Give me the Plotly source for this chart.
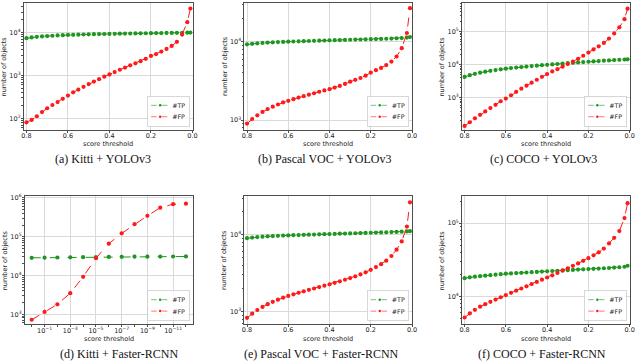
import plotly.graph_objects as go

# ---------------- data ----------------
thresholds = [0.8, 0.775, 0.75, 0.725, 0.7, 0.675, 0.65, 0.625, 0.6, 0.575, 0.55,
              0.525, 0.5, 0.475, 0.45, 0.425, 0.4, 0.375, 0.35, 0.325, 0.3, 0.275,
              0.25, 0.225, 0.2, 0.175, 0.15, 0.125, 0.1, 0.075, 0.05, 0.025, 0.01]

kitti_yolo_tp = [7400, 7700, 7950, 8150, 8300, 8450, 8580, 8700, 8800, 8880, 8960,
                 9030, 9100, 9160, 9220, 9280, 9330, 9380, 9430, 9480, 9520, 9560,
                 9600, 9640, 9680, 9720, 9760, 9800, 9840, 9880, 9920, 9960, 10000]
kitti_yolo_fp = [81, 92, 112, 140, 172, 205, 240, 285, 340, 405, 470,
                 545, 630, 720, 820, 940, 1060, 1200, 1360, 1530, 1720, 1920,
                 2150, 2450, 2850, 3150, 3600, 4150, 4900, 6100, 9000, 17500, 36500]

voc_yolo_tp = [9300, 9450, 9600, 9700, 9800, 9880, 9950, 10000, 10060, 10120, 10170,
               10220, 10270, 10320, 10370, 10420, 10470, 10510, 10550, 10600, 10650, 10700,
               10740, 10780, 10830, 10880, 10930, 10980, 11040, 11100, 11200, 11350, 11550]
voc_yolo_fp = [900, 1030, 1150, 1270, 1380, 1480, 1580, 1680, 1760, 1850, 1940,
               2020, 2110, 2200, 2300, 2390, 2480, 2600, 2730, 2900, 3100, 3270,
               3450, 3700, 4050, 4350, 4650, 5050, 5600, 6500, 8300, 13000, 27000]

coco_yolo_tp = [4300, 4850, 5350, 5800, 6200, 6600, 6950, 7300, 7650, 7950, 8250,
                8550, 8850, 9150, 9450, 9750, 10000, 10300, 10600, 10900, 11200, 11500,
                11800, 12100, 12400, 12700, 13000, 13300, 13600, 13900, 14200, 14500, 14700]
coco_yolo_fp = [142, 183, 240, 307, 390, 490, 615, 790, 950, 1200, 1520,
                1900, 2340, 2880, 3530, 4330, 5240, 6300, 7400, 8800, 10500, 12500,
                15200, 18800, 23500, 29200, 36200, 45900, 62300, 88900, 136000, 240000, 500000]

kitti_frcnn_thr = [1e0, 1e-1, 1e-2, 1e-3, 1e-4, 1e-5, 1e-6, 1e-7, 1e-8, 1e-9, 1e-10, 1e-11, 1e-12]
kitti_frcnn_tp = [28500, 28800, 29100, 29400, 29700, 29900, 30100, 30300, 30500, 30600, 30700, 30800, 30900]
kitti_frcnn_fp = [720, 1150, 1800, 3500, 9200, 28000, 66000, 122000, 210000, 345000, 560000, 690000, 710000]

voc_frcnn_tp = [9050, 9200, 9350, 9450, 9550, 9630, 9700, 9760, 9820, 9880, 9930,
                9980, 10030, 10080, 10130, 10180, 10230, 10280, 10330, 10380, 10430, 10480,
                10530, 10580, 10630, 10680, 10730, 10780, 10840, 10900, 10980, 11050, 11150]
voc_frcnn_fp = [830, 940, 1050, 1150, 1250, 1340, 1430, 1520, 1600, 1680, 1760,
                1840, 1920, 2000, 2090, 2180, 2270, 2370, 2480, 2600, 2730, 2880,
                3050, 3250, 3500, 3800, 4150, 4600, 5300, 6400, 8200, 12800, 26500]

coco_frcnn_tp = [17800, 18300, 18700, 19000, 19300, 19600, 19900, 20200, 20500, 20700, 20900,
                 21100, 21300, 21500, 21700, 21900, 22100, 22300, 22500, 22700, 22900, 23100,
                 23300, 23500, 23700, 23900, 24100, 24300, 24500, 24800, 25100, 25500, 26300]
coco_frcnn_fp = [5200, 5900, 6600, 7300, 7900, 8500, 9100, 9800, 10500, 11250, 12050,
                 12900, 13800, 14800, 15850, 17000, 18200, 19500, 21000, 22600, 24300, 26200,
                 28300, 30700, 33300, 36500, 40000, 45000, 53000, 63000, 78000, 117000, 187000]

captions = ["(a) Kitti + YOLOv3", "(b) Pascal VOC + YOLOv3", "(c) COCO + YOLOv3",
            "(d) Kitti + Faster-RCNN", "(e) Pascal VOC + Faster-RCNN", "(f) COCO + Faster-RCNN"]
series_names = ["#TP", "#FP"]
lin_ticks = [0.8, 0.6, 0.4, 0.2, 0.0]
lin_ticktext = ["0.8", "0.6", "0.4", "0.2", "0.0"]
log_x_ticks = [1e-1, 1e-3, 1e-5, 1e-7, 1e-9, 1e-11]
log_x_ticktext = ["10<sup>\u22121</sup>", "10<sup>\u22123</sup>", "10<sup>\u22125</sup>",
                  "10<sup>\u22127</sup>", "10<sup>\u22129</sup>", "10<sup>\u221211</sup>"]
y_decades = [1e2, 1e3, 1e4, 1e5, 1e6]
y_decade_text = ["10<sup>2</sup>", "10<sup>3</sup>", "10<sup>4</sup>", "10<sup>5</sup>", "10<sup>6</sup>"]

panels = [
    (thresholds, kitti_yolo_tp, kitti_yolo_fp),
    (thresholds, voc_yolo_tp, voc_yolo_fp),
    (thresholds, coco_yolo_tp, coco_yolo_fp),
    (kitti_frcnn_thr, kitti_frcnn_tp, kitti_frcnn_fp),
    (thresholds, voc_frcnn_tp, voc_frcnn_fp),
    (thresholds, coco_frcnn_tp, coco_frcnn_fp),
]

# ---------------- layout geometry (pixels) ----------------
W, H = 640, 362
px_x = [(22, 193), (245, 415), (465, 635), (23, 193), (245, 415), (465, 635)]
px_y = [(0, 128), (0, 128), (0, 128), (195, 324), (195, 324), (195, 324)]
y_ranges = [(1.73, 4.69), (2.873, 4.498), (2.03, 5.87), (2.74, 6.04), (2.835, 4.50), (3.623, 5.364)]
cap_x = [102, 326, 547, 119, 323, 546]
cap_y = [157, 157, 157, 354, 354, 354]
ytitle_x = [3, 226, 445, 3, 225, 445]
xtitle_y = [142.5, 142.5, 142.5, 339, 339, 339]

GREEN = "#1f961f"
RED = "#ff1a1a"
SPINE = "#4d4d4d"
GRID = "#dadada"
TICKFONT = dict(family="DejaVu Sans", size=6.5, color="#222222")
LEG_SCALE = 0.6

minor_log = [k * 10 ** n for n in range(1, 7) for k in range(2, 10)]
minor_logx = [10.0 ** (-n) for n in range(0, 13, 2)]

fig = go.Figure()
layout = dict(width=W, height=H, margin=dict(l=0, r=0, t=0, b=0),
              paper_bgcolor="white", plot_bgcolor="white", showlegend=True,
              annotations=[])

for i, (xs, tp, fp) in enumerate(panels):
    n = i + 1
    sfx = "" if n == 1 else str(n)
    xa, ya = "x" + sfx, "y" + sfx
    leg = "legend" + sfx
    for name, vals, col in ((series_names[0], tp, GREEN), (series_names[1], fp, RED)):
        fig.add_trace(go.Scatter(
            x=xs, y=vals, name=name, mode="lines+markers",
            line=dict(color=col, width=1, dash="dash"),
            marker=dict(color=col, size=4.2, symbol="circle"),
            xaxis=xa, yaxis=ya, legend=leg, showlegend=True))

    x0, x1 = px_x[i]
    yt, yb = px_y[i]
    xdom = [x0 / W, x1 / W]
    ydom = [1 - yb / H, 1 - yt / H]

    common = dict(showline=True, linecolor=SPINE, linewidth=0.8, mirror=True,
                  ticks="outside", ticklen=2, tickwidth=0.8, tickcolor=SPINE,
                  showgrid=True, gridcolor=GRID, gridwidth=1, zeroline=False,
                  tickfont=TICKFONT)
    if i == 3:
        xaxis = dict(common, type="log", range=[0.54, -12.54], tickmode="array",
                     tickvals=log_x_ticks, ticktext=log_x_ticktext, ticklabelstandoff=-2,
                     minor=dict(tickmode="array", tickvals=minor_logx, ticks="outside",
                                ticklen=1.5, tickcolor=SPINE, showgrid=False),
                     domain=xdom, anchor=ya)
    else:
        xaxis = dict(common, type="linear", range=[0.813, -0.002], tickmode="array",
                     tickvals=lin_ticks, ticktext=lin_ticktext, ticklabelstandoff=-3,
                     domain=xdom, anchor=ya)
    yaxis = dict(common, type="log", range=list(y_ranges[i]), tickmode="array",
                 tickvals=y_decades, ticktext=y_decade_text, ticklabelstandoff=-1,
                 minor=dict(tickmode="array", tickvals=minor_log, ticks="outside",
                            ticklen=1.5, tickcolor=SPINE, showgrid=False),
                 domain=ydom, anchor=xa)
    layout["xaxis" + sfx] = xaxis
    layout["yaxis" + sfx] = yaxis

    layout[leg] = dict(x=(x1 - 3) / W, y=1 - (yb - 3) / H, xanchor="right", yanchor="bottom",
                       bgcolor="rgba(255,255,255,0.85)", bordercolor="#cccccc", borderwidth=1.3,
                       font=dict(family="DejaVu Sans", size=10.5, color="#222222"),
                       itemwidth=30, tracegroupgap=0, traceorder="normal")

    layout["annotations"].append(dict(
        text=captions[i], x=cap_x[i] / W, y=1 - cap_y[i] / H, xref="paper", yref="paper",
        showarrow=False, xanchor="center", yanchor="middle",
        font=dict(family="Liberation Serif", size=12, color="#111111")))
    layout["annotations"].append(dict(
        text="score threshold", x=(x0 + x1) / 2 / W, y=1 - xtitle_y[i] / H,
        xref="paper", yref="paper", showarrow=False, xanchor="center", yanchor="middle",
        font=dict(family="DejaVu Sans", size=6.5, color="#222222")))
    layout["annotations"].append(dict(
        text="number of objects", x=ytitle_x[i] / W, y=1 - (yt + yb) / 2 / H,
        xref="paper", yref="paper", showarrow=False, xanchor="center", yanchor="middle",
        textangle=-90, font=dict(family="DejaVu Sans", size=6.5, color="#222222")))

fig.update_layout(**layout)

# remove the page's default body margin and make the legends compact (scaled about
# their bottom-right corner) after plotly has drawn them
post_js = """
document.body.style.margin = '0';
var s = %s;
document.querySelectorAll('g.infolayer > g').forEach(function(g) {
  var cls = g.getAttribute('class') || '';
  if (!/^legend\\d*$/.test(cls)) { return; }
  var bg = g.querySelector('rect.bg');
  if (!bg) { return; }
  var w = parseFloat(bg.getAttribute('width')), h = parseFloat(bg.getAttribute('height'));
  var m = /translate\\(\\s*([-\\d.e]+)[ ,]+([-\\d.e]+)\\s*\\)/.exec(g.getAttribute('transform') || '');
  if (!m) { return; }
  var x = parseFloat(m[1]), y = parseFloat(m[2]);
  g.setAttribute('transform', 'translate(' + (x + w * (1 - s)) + ',' + (y + h * (1 - s)) + ') scale(' + s + ')');
});
""" % LEG_SCALE

fig.write_html("out.html", post_script=post_js, config={"displayModeBar": False})
